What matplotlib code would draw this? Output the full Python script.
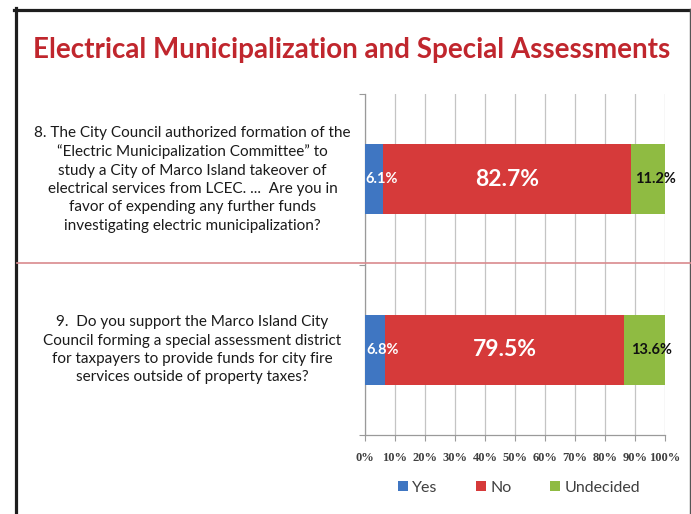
import matplotlib.pyplot as plt
from matplotlib.patches import Patch
from matplotlib.lines import Line2D
import numpy as np

questions = [
    "8. The City Council authorized formation of the\n"
    "\u201cElectric Municipalization Committee\u201d to\n"
    "study a City of Marco Island takeover of\n"
    "electrical services from LCEC. ...  Are you in\n"
    "favor of expending any further funds\n"
    "investigating electric municipalization?",
    "9.  Do you support the Marco Island City\n"
    "Council forming a special assessment district\n"
    "for taxpayers to provide funds for city fire\n"
    "services outside of property taxes?",
]
yes = [6.1, 6.8]
no = [82.7, 79.5]
undecided = [11.2, 13.6]
answers = ["Yes", "No", "Undecided"]
colors = ["#3f76c2", "#d63a3a", "#8fbb42"]
label_colors = ["white", "white", "#111111"]
xticks = np.arange(0, 101, 10)

fig = plt.figure(figsize=(6.91, 5.14), dpi=100)
W, H = 691, 514

# slide frame and divider
fig.add_artist(Line2D([15.5 / W, 15.5 / W], [0, 1 - 8 / H], color="#1e1e1e", lw=2.3))
fig.add_artist(Line2D([14 / W, 690 / W], [1 - 9.5 / H, 1 - 9.5 / H], color="#1e1e1e", lw=2.3))
fig.add_artist(Line2D([689.5 / W, 689.5 / W], [0, 1 - 9 / H], color="#555555", lw=1.0))
fig.add_artist(Line2D([17 / W, 1], [1 - 263 / H, 1 - 263 / H], color="#d98a8e", lw=1.2))

fig.text(352 / W, 1 - 50 / H, "Electrical Municipalization and Special Assessments",
         ha="center", va="center", fontsize=20, fontweight="bold",
         color="#c0262d", family="Lato")

ax = fig.add_axes([365 / W, 1 - 435 / H, 300 / W, 341 / H])
pos = np.arange(len(questions))
left = np.zeros(len(questions))
for name, vals, c, lc in zip(answers, [yes, no, undecided], colors, label_colors):
    vals = np.array(vals)
    ax.barh(pos, vals, left=left, height=0.41, color=c, label=name, zorder=3)
    for p, l, v in zip(pos, left, vals):
        big = v > 50
        ax.annotate(f"{v:.1f}%", (l + v / 2, p), xytext=(0 if big else 5.5, 0),
                    textcoords="offset points", ha="center", va="center",
                    color=lc, fontweight="bold", family="Lato",
                    fontsize=16.5 if big else 10.5, zorder=4)
    left += vals

ax.set_xlim(0, 100)
ax.set_ylim(1.5, -0.5)
ax.set_xticks(xticks)
ax.set_xticklabels([f"{t}%" for t in xticks], family="Liberation Serif",
                   fontweight="bold", fontsize=9, color="#404040")
ax.set_yticks([-0.5, 0.5, 1.5])
ax.set_yticklabels([])
ax.tick_params(axis="both", direction="out", length=4, color="#9a9a9a", width=0.8)
ax.tick_params(axis="x", pad=8)
ax.grid(axis="x", color="#c4c4c4", lw=0.9, zorder=0)
for s in ["top", "right"]:
    ax.spines[s].set_visible(False)
for s in ["left", "bottom"]:
    ax.spines[s].set_color("#9a9a9a")
    ax.spines[s].set_linewidth(0.9)

trans = ax.get_yaxis_transform()
for p, q in zip(pos, questions):
    ax.text(-0.575, p, q, transform=trans, ha="center", va="center",
            multialignment="center", fontsize=11, family="Lato",
            color="#1a1a1a", linespacing=1.4)

handles = [Patch(facecolor=c, label=n) for c, n in zip(colors, answers)]
fig.legend(handles=handles, loc="center", bbox_to_anchor=(519 / W, 1 - 488 / H),
           ncol=3, frameon=False, handlelength=0.6, handleheight=0.6,
           handletextpad=0.3, columnspacing=2.4, prop={"family": "Lato", "size": 11.5},
           labelcolor="#404040")

fig.savefig("out.png", dpi=100)
